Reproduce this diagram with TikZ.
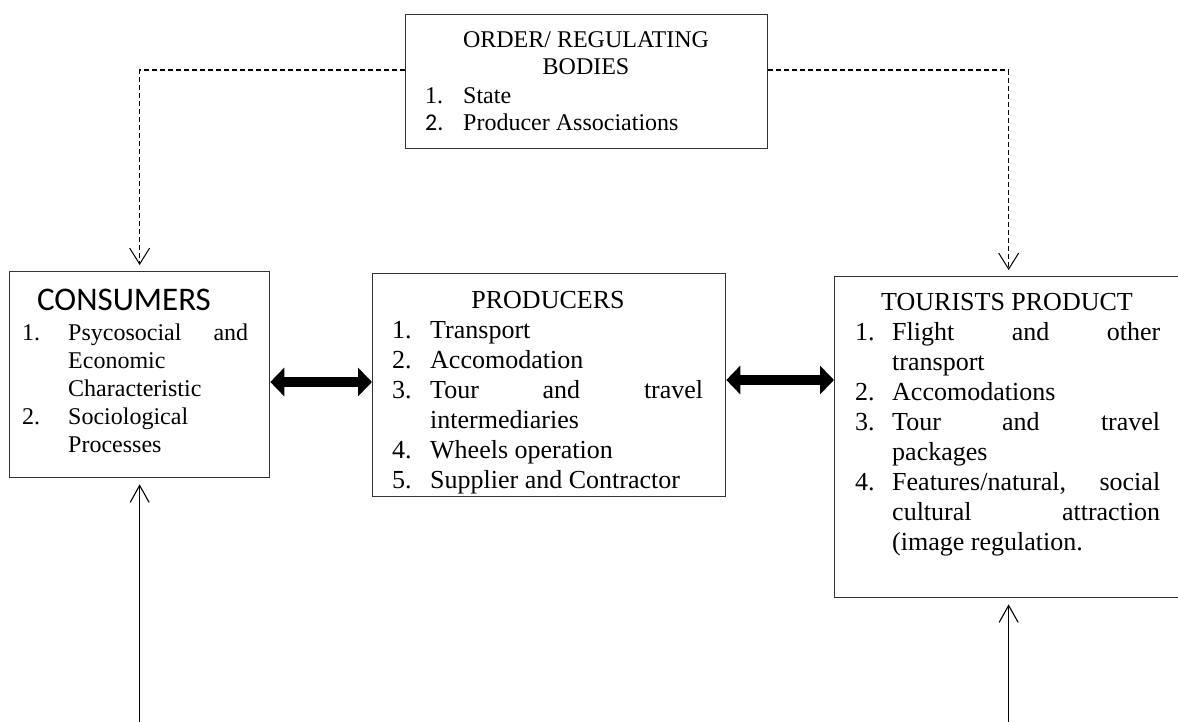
\documentclass[tikz,border=0pt]{standalone}
\usepackage{fontspec}
\setmainfont{Liberation Serif}
\newfontfamily\calibri{Carlito}
\usetikzlibrary{arrows.meta}

% numbered entry with a hanging label
\newlength\hangw
\newcommand{\entry}[2]{\makebox[\hangw][l]{#1}#2}

\tikzset{
  box/.style={draw=black!80, line width=1.3pt, rectangle, inner sep=0pt,
              anchor=north west},
  txt/.style={inner sep=0pt, anchor=base west},
  ttl/.style={inner sep=0pt, anchor=base},
  regline/.style={line width=1.1pt, dash pattern=on 5pt off 3pt,
                  -{Straight Barb[length=16pt,width=20pt,line width=1pt]},
                  shorten >=6pt},
  inline/.style={line width=1.2pt,
                  -{Straight Barb[length=17pt,width=19pt,line width=1.1pt]},
                  shorten >=6pt},
  flow/.style={line width=10pt, {Triangle[length=14pt,width=28pt]}-{Triangle[length=14pt,width=28pt]}}
}

\begin{document}
\begin{tikzpicture}[x=1pt,y=-1pt]
\useasboundingbox (0,0) rectangle (1178,722);
\clip (0,0) rectangle (1178,722);
\fill[white] (0,0) rectangle (1178,722);

% boxes
\node[box, minimum width=362, minimum height=134] (reg) at (405,14) {};
\node[box, minimum width=260, minimum height=206] (cons) at (9,271) {};
\node[box, minimum width=353, minimum height=223] (prod) at (372,273) {};
\node[box, minimum width=348, minimum height=321] (tour) at (834,276) {};

% regulating bodies
\node[ttl] (regt) at (586,48) {\parbox[t]{340pt}{\centering\fontsize{24}{27}\selectfont
  ORDER/ REGULATING\\BODIES}};
\node[txt] (regl) at (425,104) {\parbox[t]{320pt}{\fontsize{24}{27}\selectfont
  \setlength\hangw{38pt}%
  \entry{1.}{State}\\
  \entry{{\calibri 2.}}{Producer Associations}}};

% consumers
\node[ttl] (const) at (124,310.5) {\calibri\fontsize{33}{36}\selectfont CONSUMERS};
\node[txt] (consl) at (22,340) {\parbox[t]{240pt}{\fontsize{24}{28}\selectfont
  \setlength\hangw{46pt}%
  \entry{1.}{\makebox[180pt][l]{Psycosocial\hfill and}}\\
  \entry{}{Economic}\\
  \entry{}{Characteristic}\\
  \entry{2.}{Sociological}\\
  \entry{}{Processes}}};

% producers
\node[ttl] (prodt) at (548,308.6) {\fontsize{26}{30}\selectfont PRODUCERS};
\node[txt] (prodl) at (392,338.5) {\parbox[t]{330pt}{\fontsize{26}{30}\selectfont
  \setlength\hangw{38pt}%
  \entry{1.}{Transport}\\
  \entry{2.}{Accomodation}\\
  \entry{3.}{\makebox[273pt][l]{Tour\hfill and\hfill travel}}\\
  \entry{}{intermediaries}\\
  \entry{4.}{Wheels operation}\\
  \entry{5.}{Supplier and Contractor}}};

% tourists product
\node[ttl] (tourt) at (1007,310.6) {\fontsize{26}{30}\selectfont TOURISTS PRODUCT};
\node[txt] (tourl) at (855,340) {\parbox[t]{320pt}{\fontsize{26}{30}\selectfont
  \setlength\hangw{37pt}%
  \entry{1.}{\makebox[268pt][l]{Flight\hfill and\hfill other}}\\
  \entry{}{transport}\\
  \entry{2.}{Accomodations}\\
  \entry{3.}{\makebox[268pt][l]{Tour\hfill and\hfill travel}}\\
  \entry{}{packages}\\
  \entry{4.}{\makebox[268pt][l]{Features/natural,\hfill social}}\\
  \entry{}{\makebox[268pt][l]{cultural\hfill attraction}}\\
  \entry{}{(image regulation.}}};

% regulation links
\coordinate (lvl) at (0,70);
\draw[regline] (reg.west |- lvl) -| (cons.north);
\draw[regline] (reg.east |- lvl) -| (tour.north);

% exchanges between the three groups
\coordinate (ya) at (0,382);
\coordinate (yb) at (0,380);
\draw[flow] (cons.east |- ya) -- (prod.west |- ya);
\draw[flow] (prod.east |- yb) -- (tour.west |- yb);

% inputs from below
\coordinate (bot) at (0,722);
\draw[inline] (cons.south |- bot) -- (cons.south);
\draw[inline] (tour.south |- bot) -- (tour.south);
\end{tikzpicture}
\end{document}
